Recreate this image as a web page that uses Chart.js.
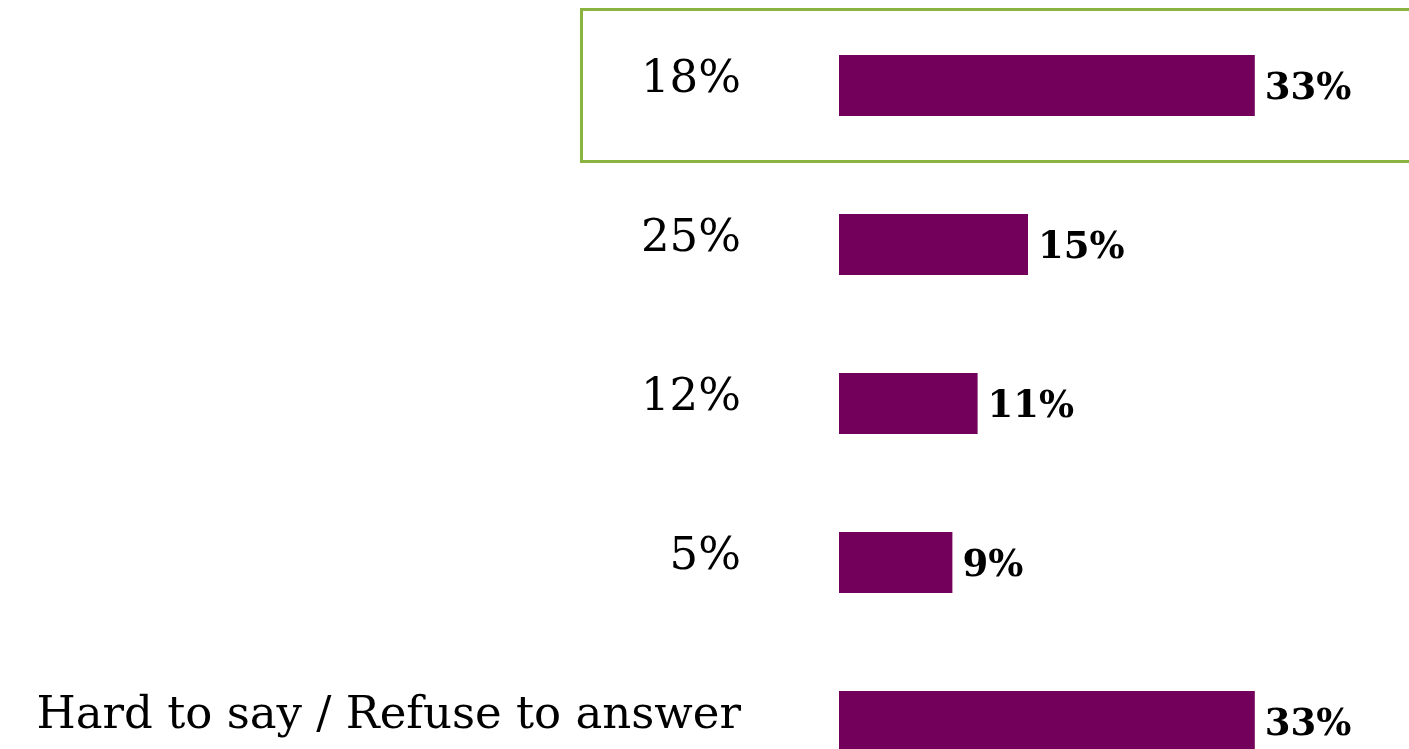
<!DOCTYPE html>
<html>
<head>
<meta charset="utf-8">
<script src="https://cdn.jsdelivr.net/npm/chart.js@4"></script>
<style>
    html, body { margin: 0; padding: 0; background: #fff; overflow: hidden; }
    #wrap { width: 1409px; height: 801px; position: relative; }
</style>
</head>
<body>
<div id="wrap"><canvas id="answerChart"></canvas></div>
<script>
// categories (left labels) and values (bar lengths, %)
const categories = ['18%', '25%', '12%', '5%', 'Hard to say / Refuse to answer'];
const shares = [33, 15, 11, 9, 33];
const valueLabels = ['33%', '15%', '11%', '9%', '33%'];

const barColor = '#73005A';
const boxColor = '#8AB33F';
const serif = "'DejaVu Serif', 'Liberation Serif', serif";

// green frame around the first row
const highlightBox = {
    id: 'highlightBox',
    afterDraw(chart) {
        const ctx = chart.ctx;
        const y = chart.scales.y;
        const step = y.getPixelForValue(1) - y.getPixelForValue(0);
        const mid = y.getPixelForValue(0);
        ctx.save();
        ctx.strokeStyle = boxColor;
        ctx.lineWidth = 3;
        ctx.strokeRect(chart.chartArea.left - 257.5, mid - step * 0.478, 900, step * 0.956);
        ctx.restore();
    }
};

// bold value text at the end of each bar
const valueText = {
    id: 'valueText',
    afterDatasetsDraw(chart) {
        const ctx = chart.ctx;
        const meta = chart.getDatasetMeta(0);
        ctx.save();
        ctx.fillStyle = '#000';
        ctx.font = "bold 37px " + serif;
        ctx.textAlign = 'left';
        ctx.textBaseline = 'middle';
        meta.data.forEach((bar, i) => {
            ctx.fillText(valueLabels[i], bar.x + 10, bar.y + 4);
        });
        ctx.restore();
    }
};

new Chart(document.getElementById('answerChart'), {
    type: 'bar',
    data: {
        labels: categories,
        datasets: [{
            data: shares,
            backgroundColor: barColor,
            borderWidth: 0,
            barPercentage: 0.385,
            categoryPercentage: 1
        }]
    },
    options: {
        indexAxis: 'y',
        responsive: true,
        maintainAspectRatio: false,
        animation: false,
        layout: { padding: { left: 0, right: 66, top: 6, bottom: 0 } },
        plugins: {
            legend: { display: false },
            tooltip: { enabled: false }
        },
        scales: {
            x: {
                display: false,
                min: 0,
                max: 40
            },
            y: {
                border: { display: false },
                grid: { display: false, drawTicks: false },
                ticks: {
                    color: '#000',
                    padding: 98,
                    labelOffset: -5,
                    font: { family: serif, size: 45 }
                },
                afterFit(scale) {
                    // tick padding is also added above/below the axis, drop it
                    scale.width = 839;
                    scale.paddingTop = 0;
                    scale.paddingBottom = 0;
                }
            }
        }
    },
    plugins: [highlightBox, valueText]
});
</script>
</body>
</html>
